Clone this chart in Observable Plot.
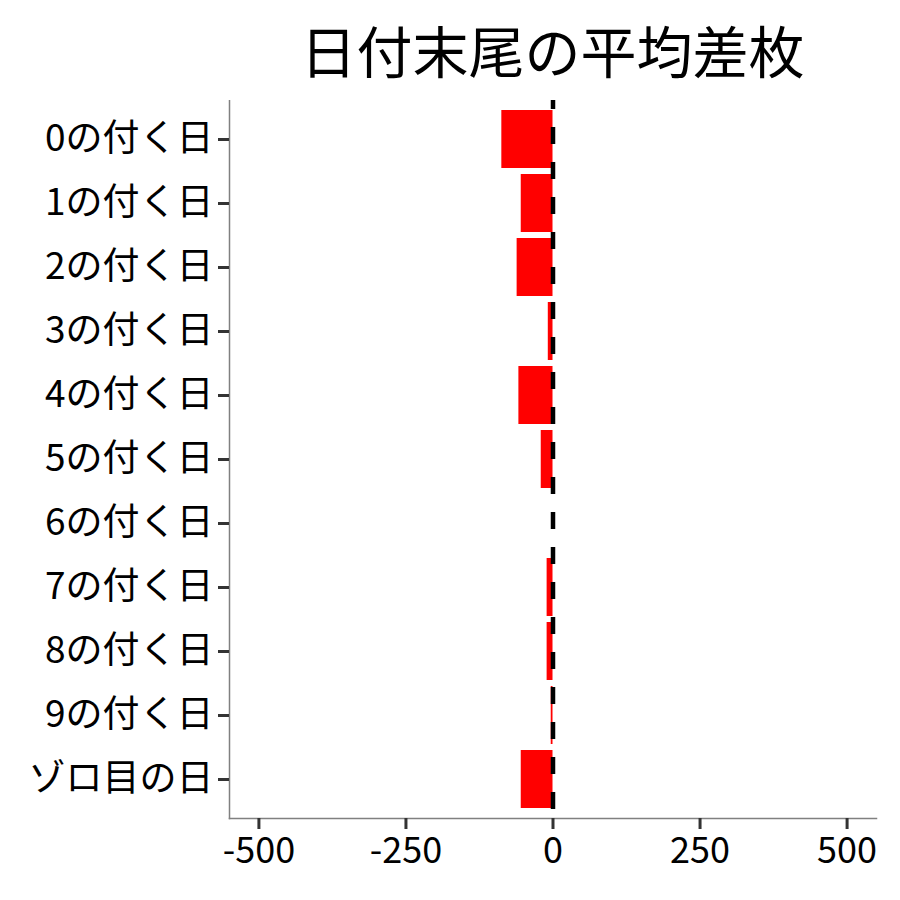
<!DOCTYPE html>
<html>
<head>
<meta charset="utf-8">
<script src="https://cdn.jsdelivr.net/npm/d3@7"></script>
<script src="https://cdn.jsdelivr.net/npm/@observablehq/plot@0.6"></script>
<style>
  html, body { margin: 0; padding: 0; background: #fff; }
  #wrap { position: relative; width: 900px; height: 900px; font-family: "Noto Sans CJK JP", sans-serif; }
  #title { position: absolute; left: 229px; width: 647px; top: 4px; height: 90px; line-height: 90px; text-align: center; font-size: 56px; color: #000; }
  #chart { position: absolute; left: 0; top: 100px; }
</style>
</head>
<body>
<div id="wrap">
  <div id="title">日付末尾の平均差枚</div>
  <div id="chart"></div>
</div>
<script>
const categories = ["0の付く日","1の付く日","2の付く日","3の付く日","4の付く日","5の付く日","6の付く日","7の付く日","8の付く日","9の付く日","ゾロ目の日"];
const values = [-87, -54, -61, -8, -58, -20, 0, -10, -10, -3, -54];
const xTicks = [-500, -250, 0, 250, 500];
const xDomain = [-550, 550];

const data = categories.map((c, i) => ({category: c, value: values[i]}));

const chart = Plot.plot({
  width: 900,
  height: 800,
  marginTop: 0,
  marginBottom: 82,
  marginLeft: 229,
  marginRight: 24,
  style: {fontFamily: "'Noto Sans CJK JP', sans-serif", background: "#fff"},
  x: {domain: xDomain},
  y: {domain: categories, paddingInner: 0.1, paddingOuter: 0.15, align: 0.5},
  marks: [
    Plot.barX(data, {y: "category", x1: 0, x2: "value", fill: "#ff0000"}),
    Plot.ruleX([0], {stroke: "#000", strokeWidth: 4.5, strokeDasharray: "17,18", strokeDashoffset: 8}),
    Plot.frame({anchor: "left", stroke: "#808080", strokeWidth: 1.5}),
    Plot.frame({anchor: "bottom", stroke: "#808080", strokeWidth: 1.5}),
    Plot.axisY({tickSize: 11, tickPadding: 5, fontSize: 37, stroke: "#333", strokeWidth: 3, fill: "#000", label: null}),
    Plot.axisX({ticks: xTicks, tickFormat: d => String(d), tickSize: 11, tickPadding: 8, fontSize: 36, stroke: "#333", strokeWidth: 3, fill: "#000", label: null})
  ]
});
document.getElementById("chart").appendChild(chart);
</script>
</body>
</html>
